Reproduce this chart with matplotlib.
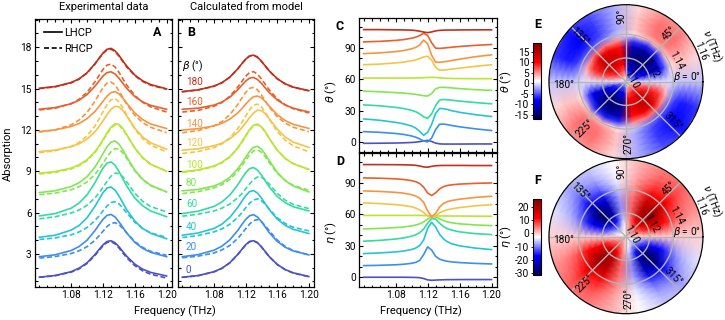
import numpy as np
import matplotlib
matplotlib.use('Agg')
import matplotlib.pyplot as plt
from matplotlib.ticker import MultipleLocator, FormatStrFormatter
from matplotlib.lines import Line2D

plt.rcParams['font.family'] = ['Roboto', 'DejaVu Sans']
plt.rcParams['mathtext.fontset'] = 'dejavusans'
plt.rcParams['axes.unicode_minus'] = False

# ---------------- data ----------------
beta = [0, 20, 40, 60, 80, 100, 120, 140, 160, 180]
colors = ['#4b52c6', '#3d8ef0', '#27c4d4', '#33dca0', '#82e652',
          '#b9e631', '#f6c445', '#f7953f', '#ea5f2a', '#c2301b']

# absorption spectra (offset per beta), panels A and B
freq = [1.04, 1.06, 1.08, 1.09, 1.10, 1.11, 1.115, 1.12, 1.125, 1.13,
        1.135, 1.14, 1.145, 1.15, 1.16, 1.17, 1.18, 1.20]

exp_lhcp = [
    [1.31, 1.44, 1.71, 1.97, 2.36, 2.96, 3.32, 3.66, 3.90, 3.96, 3.82, 3.53, 3.17, 2.82, 2.26, 1.89, 1.66, 1.40],
    [2.80, 2.94, 3.25, 3.54, 4.00, 4.70, 5.12, 5.51, 5.80, 5.87, 5.69, 5.34, 4.92, 4.51, 3.84, 3.40, 3.12, 2.80],
    [4.21, 4.36, 4.73, 5.07, 5.63, 6.46, 6.96, 7.44, 7.78, 7.86, 7.64, 7.22, 6.70, 6.20, 5.39, 4.85, 4.50, 4.10],
    [5.76, 5.93, 6.32, 6.70, 7.29, 8.18, 8.72, 9.23, 9.59, 9.68, 9.45, 9.00, 8.45, 7.92, 7.06, 6.49, 6.12, 5.70],
    [7.45, 7.59, 7.89, 8.17, 8.61, 9.31, 9.78, 10.28, 10.77, 11.11, 11.20, 10.98, 10.55, 10.03, 9.08, 8.41, 7.98, 7.50],
    [8.86, 8.98, 9.23, 9.47, 9.84, 10.43, 10.83, 11.29, 11.78, 12.20, 12.44, 12.41, 12.11, 11.65, 10.69, 9.98, 9.51, 9.00],
    [10.43, 10.54, 10.78, 11.00, 11.34, 11.87, 12.24, 12.66, 13.10, 13.49, 13.71, 13.68, 13.41, 13.00, 12.13, 11.48, 11.06, 10.60],
    [11.88, 12.00, 12.25, 12.47, 12.82, 13.35, 13.70, 14.08, 14.45, 14.71, 14.78, 14.62, 14.31, 13.93, 13.23, 12.75, 12.43, 12.10],
    [13.50, 13.62, 13.90, 14.16, 14.57, 15.18, 15.55, 15.91, 16.16, 16.22, 16.07, 15.76, 15.38, 15.01, 14.42, 14.03, 13.78, 13.50],
    [15.02, 15.15, 15.44, 15.71, 16.15, 16.81, 17.20, 17.58, 17.85, 17.92, 17.75, 17.42, 17.01, 16.62, 15.98, 15.56, 15.29, 14.98],
]
exp_rhcp = [
    [1.31, 1.42, 1.68, 1.92, 2.31, 2.90, 3.25, 3.59, 3.83, 3.89, 3.74, 3.44, 3.07, 2.72, 2.15, 1.77, 1.53, 1.25],
    [2.70, 2.81, 3.03, 3.23, 3.53, 4.00, 4.31, 4.65, 4.98, 5.21, 5.27, 5.13, 4.86, 4.52, 3.90, 3.47, 3.19, 2.90],
    [4.05, 4.16, 4.39, 4.60, 4.92, 5.43, 5.76, 6.13, 6.48, 6.73, 6.79, 6.64, 6.34, 5.97, 5.30, 4.83, 4.53, 4.20],
    [5.55, 5.70, 5.97, 6.19, 6.54, 7.07, 7.43, 7.84, 8.26, 8.64, 8.86, 8.84, 8.60, 8.22, 7.41, 6.82, 6.44, 6.05],
    [7.30, 7.42, 7.66, 7.88, 8.23, 8.78, 9.15, 9.58, 10.02, 10.42, 10.64, 10.61, 10.34, 9.92, 9.04, 8.38, 7.96, 7.50],
    [8.80, 8.92, 9.17, 9.41, 9.78, 10.37, 10.77, 11.22, 11.71, 12.12, 12.36, 12.34, 12.05, 11.60, 10.66, 9.96, 9.50, 9.00],
    [10.35, 10.49, 10.81, 11.10, 11.57, 12.30, 12.79, 13.32, 13.83, 14.19, 14.28, 14.05, 13.60, 13.06, 12.06, 11.36, 10.90, 10.40],
    [11.85, 12.01, 12.37, 12.72, 13.27, 14.09, 14.59, 15.06, 15.40, 15.48, 15.27, 14.85, 14.35, 13.85, 13.06, 12.53, 12.19, 11.80],
    [13.45, 13.58, 13.91, 14.23, 14.73, 15.50, 15.95, 16.39, 16.70, 16.78, 16.58, 16.19, 15.71, 15.24, 14.50, 14.00, 13.67, 13.30],
    [15.00, 15.13, 15.42, 15.69, 16.13, 16.79, 17.18, 17.55, 17.80, 17.86, 17.70, 17.37, 16.96, 16.57, 15.94, 15.52, 15.25, 14.95],
]
mod_lhcp = [
    [1.31, 1.43, 1.71, 1.96, 2.36, 2.96, 3.31, 3.66, 3.90, 3.96, 3.82, 3.52, 3.16, 2.80, 2.24, 1.87, 1.63, 1.36],
    [2.80, 2.95, 3.27, 3.56, 4.02, 4.70, 5.11, 5.50, 5.77, 5.85, 5.68, 5.35, 4.94, 4.54, 3.91, 3.49, 3.22, 2.93],
    [4.36, 4.52, 4.85, 5.16, 5.65, 6.37, 6.81, 7.22, 7.52, 7.60, 7.42, 7.06, 6.63, 6.21, 5.53, 5.08, 4.79, 4.48],
    [5.93, 6.10, 6.45, 6.77, 7.27, 8.01, 8.46, 8.89, 9.19, 9.27, 9.09, 8.73, 8.29, 7.86, 7.17, 6.72, 6.43, 6.12],
    [7.58, 7.68, 7.93, 8.17, 8.56, 9.17, 9.57, 10.01, 10.44, 10.74, 10.81, 10.61, 10.23, 9.77, 8.92, 8.33, 7.94, 7.50],
    [8.96, 9.10, 9.38, 9.65, 10.06, 10.70, 11.12, 11.58, 12.02, 12.34, 12.42, 12.23, 11.85, 11.38, 10.53, 9.93, 9.55, 9.13],
    [10.53, 10.63, 10.85, 11.04, 11.35, 11.82, 12.14, 12.51, 12.89, 13.23, 13.43, 13.40, 13.17, 12.81, 12.05, 11.49, 11.12, 10.73],
    [11.99, 12.09, 12.29, 12.48, 12.78, 13.23, 13.53, 13.86, 14.18, 14.41, 14.46, 14.33, 14.05, 13.72, 13.11, 12.68, 12.41, 12.11],
    [13.50, 13.58, 13.80, 14.02, 14.37, 14.91, 15.23, 15.54, 15.76, 15.81, 15.66, 15.38, 15.04, 14.71, 14.17, 13.81, 13.58, 13.30],
    [14.78, 14.91, 15.18, 15.43, 15.83, 16.43, 16.79, 17.13, 17.37, 17.43, 17.29, 16.99, 16.63, 16.28, 15.72, 15.35, 15.11, 14.85],
]
mod_rhcp = [
    [1.30, 1.42, 1.70, 1.95, 2.35, 2.95, 3.30, 3.65, 3.89, 3.95, 3.81, 3.51, 3.15, 2.79, 2.23, 1.86, 1.62, 1.35],
    [2.72, 2.84, 3.07, 3.29, 3.61, 4.12, 4.46, 4.82, 5.17, 5.42, 5.49, 5.34, 5.04, 4.68, 4.01, 3.55, 3.25, 2.93],
    [4.19, 4.34, 4.60, 4.82, 5.15, 5.65, 5.98, 6.33, 6.68, 6.92, 7.00, 6.86, 6.59, 6.25, 5.63, 5.21, 4.94, 4.67],
    [5.74, 5.88, 6.12, 6.32, 6.62, 7.07, 7.37, 7.72, 8.08, 8.40, 8.58, 8.57, 8.37, 8.06, 7.40, 6.91, 6.60, 6.29],
    [7.38, 7.52, 7.79, 8.03, 8.40, 8.99, 9.37, 9.79, 10.19, 10.47, 10.55, 10.38, 10.04, 9.62, 8.86, 8.33, 7.98, 7.62],
    [8.92, 9.06, 9.34, 9.61, 10.02, 10.66, 11.08, 11.54, 11.98, 12.30, 12.39, 12.21, 11.84, 11.37, 10.53, 9.94, 9.56, 9.15],
    [10.29, 10.43, 10.72, 10.99, 11.42, 12.08, 12.52, 13.00, 13.46, 13.79, 13.87, 13.67, 13.27, 12.78, 11.89, 11.26, 10.85, 10.41],
    [11.80, 11.95, 12.29, 12.61, 13.10, 13.84, 14.29, 14.71, 15.02, 15.09, 14.91, 14.54, 14.09, 13.66, 12.96, 12.50, 12.20, 11.87],
    [13.30, 13.42, 13.72, 13.99, 14.44, 15.10, 15.50, 15.89, 16.16, 16.23, 16.05, 15.71, 15.30, 14.90, 14.25, 13.83, 13.55, 13.23],
    [14.77, 14.90, 15.17, 15.42, 15.82, 16.42, 16.78, 17.12, 17.36, 17.42, 17.28, 16.98, 16.62, 16.27, 15.71, 15.34, 15.10, 14.84],
]

# polarization rotation theta and ellipticity eta, panels C and D
freq_cd = [1.04, 1.06, 1.08, 1.09, 1.10, 1.105, 1.11, 1.115, 1.12, 1.125,
           1.13, 1.135, 1.14, 1.145, 1.15, 1.16, 1.18, 1.20]
theta_deg = [
    [-1.0, -0.9, -0.7, -0.5, -0.2, 0.1, 0.6, 1.3, 1.8, 0.8, -0.8, -1.5, -1.7, -1.7, -1.7, -1.7, -1.6, -1.6],
    [10.2, 9.5, 8.4, 7.5, 6.0, 4.9, 3.3, 1.3, 0.3, 4.0, 12.0, 17.2, 17.4, 16.8, 16.0, 14.8, 12.8, 11.2],
    [22.3, 21.0, 19.0, 17.6, 15.5, 13.6, 10.5, 6.6, 9.5, 17.0, 27.5, 32.3, 32.0, 31.2, 30.2, 28.6, 26.3, 24.6],
    [35.7, 34.8, 33.3, 32.2, 30.5, 29.2, 27.2, 24.3, 22.8, 27.0, 35.0, 40.3, 40.8, 40.6, 40.2, 39.3, 37.9, 36.7],
    [48.8, 48.2, 47.4, 46.9, 46.2, 45.7, 45.1, 44.4, 44.1, 46.5, 51.0, 52.4, 52.5, 52.2, 51.9, 51.2, 50.2, 49.5],
    [61.3, 61.3, 61.3, 61.3, 61.3, 61.4, 61.5, 61.6, 61.8, 62.0, 61.9, 61.5, 61.2, 61.0, 60.9, 60.8, 60.7, 60.7],
    [74.0, 74.6, 75.7, 76.5, 77.8, 78.6, 79.8, 81.5, 82.1, 78.5, 71.5, 68.8, 68.9, 69.3, 69.8, 70.7, 72.5, 74.0],
    [84.6, 85.3, 86.5, 87.5, 89.2, 90.5, 92.8, 97.5, 94.0, 83.0, 76.5, 76.3, 76.8, 77.3, 78.0, 79.3, 81.7, 83.4],
    [95.8, 96.3, 97.2, 98.0, 99.3, 100.3, 101.8, 104.0, 102.0, 95.0, 89.8, 89.6, 89.9, 90.3, 90.7, 91.4, 92.5, 93.3],
    [107.5, 107.5, 107.3, 107.2, 107.0, 106.6, 106.0, 105.2, 104.6, 105.3, 106.3, 106.8, 107.0, 107.1, 107.1, 107.2, 107.3, 107.3],
]
eta_deg = [
    [0.0, 0.0, 0.0, 0.0, -0.1, -0.2, -0.4, -1.2, -2.5, -2.9, -2.7, -2.5, -2.4, -2.3, -2.3, -2.2, -2.2, -2.2],
    [11.1, 11.4, 11.9, 12.4, 13.3, 14.2, 16.0, 21.5, 29.0, 26.0, 20.0, 17.3, 16.0, 15.2, 14.7, 14.0, 13.2, 12.7],
    [22.6, 23.2, 24.2, 25.0, 26.5, 27.8, 30.2, 35.5, 46.5, 52.5, 48.0, 41.0, 36.5, 33.8, 32.0, 30.0, 27.8, 26.4],
    [34.4, 35.2, 36.5, 37.5, 39.2, 40.5, 42.5, 46.0, 51.5, 56.0, 55.5, 51.5, 48.3, 46.3, 45.0, 43.3, 41.6, 40.7],
    [46.1, 46.6, 47.4, 48.0, 49.0, 49.8, 51.0, 52.8, 55.5, 57.8, 57.6, 55.8, 54.0, 52.8, 52.0, 51.0, 49.9, 49.3],
    [59.0, 59.0, 59.0, 59.0, 59.0, 59.0, 59.0, 58.9, 58.8, 58.6, 58.5, 58.5, 58.5, 58.5, 58.4, 58.4, 58.3, 58.2],
    [70.9, 70.3, 69.3, 68.5, 67.2, 66.0, 64.3, 61.8, 58.5, 57.0, 58.8, 61.5, 63.3, 64.5, 65.3, 66.5, 68.2, 69.3],
    [82.4, 81.9, 81.0, 80.2, 78.8, 77.5, 75.5, 71.5, 63.5, 57.5, 61.0, 67.0, 70.5, 72.2, 73.2, 74.5, 76.2, 77.3],
    [94.8, 94.5, 93.9, 93.3, 92.2, 91.2, 89.5, 86.0, 80.5, 78.0, 80.5, 84.3, 86.5, 87.6, 88.2, 88.9, 89.6, 90.0],
    [107.5, 107.5, 107.4, 107.3, 107.1, 106.8, 106.2, 105.3, 105.0, 105.8, 106.4, 106.6, 106.7, 106.7, 106.7, 106.7, 106.6, 106.6],
]

# polar maps E and F: rows = frequency, columns = beta (0..180, repeats for 180..360)
beta_map = [0, 20, 40, 60, 80, 100, 120, 140, 160, 180]
nu_map = [1.100, 1.105, 1.110, 1.115, 1.120, 1.125, 1.130, 1.135,
          1.140, 1.145, 1.150, 1.155, 1.160, 1.165]
theta_map = [
    [0, -1.0, -1.4, -1.5, -1.3, 1.1, 1.3, 1.4, 0.9, 0],
    [0, -3.5, -4.9, -5.3, -4.6, 3.9, 4.6, 4.9, 3.2, 0],
    [0, -6.5, -9.1, -9.8, -8.5, 7.2, 8.5, 9.1, 5.9, 0],
    [0, -9.0, -12.6, -13.5, -11.7, 9.9, 11.7, 12.6, 8.1, 0],
    [0, -10.0, -14.0, -15.0, -13.0, 11.0, 13.0, 14.0, 9.0, 0],
    [0, -10.0, -14.0, -15.0, -13.0, 11.0, 13.0, 14.0, 9.0, 0],
    [0, -8.5, -11.9, -12.8, -11.0, 9.4, 11.0, 11.9, 7.7, 0],
    [0, -4.5, -6.3, -6.8, -5.9, 5.0, 5.9, 6.3, 4.0, 0],
    [-0.5, 2.0, 3.5, 3.5, 2.0, -1.0, -4.0, -5.0, -3.5, -0.5],
    [-1, 3.0, 5.5, 5.5, 3.0, -2.0, -5.5, -7.0, -6.0, -1],
    [-1, 3.0, 6.0, 6.0, 3.0, -2.0, -6.0, -8.0, -7.0, -1],
    [-1, 3.0, 6.0, 6.0, 3.0, -2.0, -6.0, -8.0, -7.0, -1],
    [-1, 2.5, 5.5, 5.5, 2.5, -2.0, -5.5, -7.5, -6.5, -1],
    [-1, 2.5, 5.0, 5.0, 2.5, -2.0, -5.0, -7.0, -6.0, -1],
]
eta_map = [
    [0, 0.7, 1.2, 1.0, 0.3, -0.5, -1.2, -1.5, -0.9, 0],
    [0, 2.0, 3.6, 3.0, 0.9, -1.4, -3.6, -4.5, -2.7, 0],
    [0, 4.6, 8.4, 7.0, 2.1, -3.2, -8.4, -10.5, -6.3, 0],
    [0, 8.5, 15.6, 13.0, 3.9, -5.9, -15.6, -19.5, -11.7, 0],
    [0, 11.7, 21.6, 18.0, 5.4, -8.1, -21.6, -27.0, -16.2, 0],
    [0, 13.0, 24.0, 20.0, 6.0, -9.0, -24.0, -30.0, -18.0, 0],
    [0, 12.7, 23.5, 19.6, 5.9, -8.8, -23.5, -29.4, -17.6, 0],
    [0, 11.1, 20.4, 17.0, 5.1, -7.7, -20.4, -25.5, -15.3, 0],
    [0, 8.5, 15.6, 13.0, 3.9, -5.9, -15.6, -19.5, -11.7, 0],
    [0, 6.5, 12.0, 10.0, 3.0, -4.5, -12.0, -15.0, -9.0, 0],
    [0, 5.2, 9.6, 8.0, 2.4, -3.6, -9.6, -12.0, -7.2, 0],
    [0, 4.3, 7.9, 6.6, 2.0, -3.0, -7.9, -9.9, -5.9, 0],
    [0, 3.6, 6.7, 5.6, 1.7, -2.5, -6.7, -8.4, -5.0, 0],
    [0, 3.3, 6.0, 5.0, 1.5, -2.3, -6.0, -7.5, -4.5, 0],
]

# ---------------- figure ----------------
fig = plt.figure(figsize=(7.25, 3.2), dpi=100)
FS = 8
TFS = 7.3
LW = 1.2
DASH = (3.0, 1.6)


def style(ax):
    ax.tick_params(which='both', direction='in', top=True, right=True,
                   labelsize=TFS, width=0.8, pad=2.5)
    ax.tick_params(which='major', length=3.2)
    ax.tick_params(which='minor', length=1.8)
    for s in ax.spines.values():
        s.set_linewidth(0.9)


ax_a = fig.add_axes([0.0483, 0.1031, 0.1886, 0.8375])
ax_b = fig.add_axes([0.2455, 0.1031, 0.1876, 0.8375])
for ax, lh, rh in [(ax_a, exp_lhcp, exp_rhcp), (ax_b, mod_lhcp, mod_rhcp)]:
    for c, yl, yr in zip(colors, lh, rh):
        ax.plot(freq, yr, color=c, lw=LW, dashes=DASH)
        ax.plot(freq, yl, color=c, lw=LW)
    ax.set_xlim(1.0345, 1.2065)
    ax.set_ylim(0.6, 20.05)
    ax.set_xticks([1.08, 1.12, 1.16, 1.20])
    ax.xaxis.set_minor_locator(MultipleLocator(0.01))
    ax.xaxis.set_major_formatter(FormatStrFormatter('%.2f'))
    ax.set_yticks([3, 6, 9, 12, 15, 18])
    ax.yaxis.set_minor_locator(MultipleLocator(1))
    style(ax)
ax_b.tick_params(labelleft=False)

handles = [Line2D([], [], color='k', lw=LW), Line2D([], [], color='k', lw=LW, dashes=DASH)]
ax_a.legend(handles, ['LHCP', 'RHCP'], loc='upper left', frameon=False, fontsize=FS,
            handlelength=1.6, handletextpad=0.2, labelspacing=0.55, borderaxespad=0.4)

ax_a.text(0.89, 0.95, 'A', transform=ax_a.transAxes, fontsize=9, fontweight='bold',
          ha='center', va='center')
ax_b.text(0.10, 0.95, 'B', transform=ax_b.transAxes, fontsize=9, fontweight='bold',
          ha='center', va='center')

label_y = [1.83, 3.49, 4.99, 6.6, 8.13, 9.46, 11.03, 12.43, 14.05, 15.46]
for b, c, y in zip(beta, colors, label_y):
    ax_b.text(1.0446, y, str(b), color=c, fontsize=7.2, va='center', ha='left')
ax_b.text(1.0395, 16.6, r'$\beta$ (°)', fontsize=7.5, va='center', ha='left')

fig.text(0.1426, 0.979, 'Experimental data', ha='center', va='center', fontsize=FS)
fig.text(0.3393, 0.979, 'Calculated from model', ha='center', va='center', fontsize=FS)
fig.text(0.0115, 0.519, 'Absorption', rotation=90, ha='center', va='center', fontsize=FS)
fig.text(0.2414, 0.026, 'Frequency (THz)', ha='center', va='center', fontsize=FS)

# C and D
ax_c = fig.add_axes([0.4956, 0.5259, 0.1895, 0.4169])
ax_d = fig.add_axes([0.4956, 0.1041, 0.1895, 0.4169])
for ax, data in [(ax_c, theta_deg), (ax_d, eta_deg)]:
    for c, y in zip(colors, data):
        ax.plot(freq_cd, y, color=c, lw=LW)
    ax.set_xlim(1.0345, 1.2065)
    ax.set_ylim(-9, 118.3)
    ax.set_xticks([1.08, 1.12, 1.16, 1.20])
    ax.xaxis.set_minor_locator(MultipleLocator(0.01))
    ax.xaxis.set_major_formatter(FormatStrFormatter('%.2f'))
    ax.set_yticks([0, 30, 60, 90])
    ax.yaxis.set_minor_locator(MultipleLocator(10))
    style(ax)
ax_c.tick_params(labelbottom=False)

fig.text(0.4566, 0.7125, r'$\theta$ (°)', rotation=90, ha='center', va='center', fontsize=FS)
fig.text(0.4566, 0.2734, r'$\eta$ (°)', rotation=90, ha='center', va='center', fontsize=FS)
fig.text(0.5807, 0.026, 'Frequency (THz)', ha='center', va='center', fontsize=FS)
fig.text(0.469, 0.917, 'C', ha='center', va='center', fontsize=9, fontweight='bold')
fig.text(0.469, 0.4947, 'D', ha='center', va='center', fontsize=9, fontweight='bold')

# E and F polar maps
polar_labels = [
    (0.894, 0.532, r'$\beta$ = 0°', 0), (0.779, 0.813, '45°', 45),
    (0.472, 0.922, '90°', 90), (0.201, 0.792, '135°', -45),
    (0.093, 0.479, '180°', 0), (0.234, 0.197, '225°', 45),
    (0.515, 0.100, '270°', 90), (0.807, 0.240, '315°', -45),
    (0.537, 0.512, '1.10', -62), (0.667, 0.587, '1.12', -62),
    (0.829, 0.641, '1.14', -62), (0.984, 0.700, '1.16', -68),
    (1.058, 0.730, r'$\nu$ (THz)', -68),
]

panels = [
    ([0.7572, 0.5041, 0.2124, 0.48125], [0.7356, 0.628, 0.0106, 0.2366],
     theta_map, -17, 19, [-15, -10, -5, 0, 5, 10, 15], r'$\theta$ (°)', 'E', 0.922),
    ([0.7572, 0.0197, 0.2124, 0.48125], [0.7356, 0.1406, 0.0106, 0.2375],
     eta_map, -31.8, 26.4, [-30, -20, -10, 0, 10, 20], r'$\eta$ (°)', 'F', 0.4375),
]
bm = np.array(beta_map, dtype=float)
th = np.deg2rad(np.concatenate([bm[:-1], bm[:-1] + 180, [360]]))
for pos, cpos, grid, vmin, vmax, ticks, lab, letter, ly in panels:
    axp = fig.add_axes(pos, projection='polar')
    z = np.array(grid, dtype=float)
    zf = np.hstack([z[:, :-1], z[:, :-1], z[:, :1]])
    T, R = np.meshgrid(th, nu_map)
    mesh = axp.pcolormesh(T, R, zf, cmap='seismic', vmin=vmin, vmax=vmax,
                          shading='gouraud', zorder=0)
    axp.set_ylim(1.10, 1.165)
    axp.set_xticks(np.deg2rad(np.arange(0, 360, 45)))
    axp.set_xticklabels([])
    axp.set_yticks([1.12, 1.14])
    axp.set_yticklabels([])
    axp.tick_params(length=0)
    axp.grid(True, color='#b4b4b4', lw=1.0)
    axp.spines['polar'].set_linewidth(0.9)
    for fx, fy, s, rot in polar_labels:
        axp.text(fx, fy, s, transform=axp.transAxes, ha='center', va='center',
                 rotation=rot, fontsize=7.3, clip_on=False)

    cax = fig.add_axes(cpos)
    cb = fig.colorbar(mesh, cax=cax, ticks=ticks)
    cax.yaxis.set_ticks_position('left')
    cax.yaxis.set_label_position('left')
    cax.tick_params(labelsize=TFS, length=1.5, width=0.6, pad=1.5)
    cb.outline.set_linewidth(0.8)
    cb.set_label(lab, fontsize=FS, labelpad=1)
    fig.text(0.7417, ly, letter, ha='center', va='center', fontsize=9, fontweight='bold')

fig.savefig('out.png', dpi=100)
